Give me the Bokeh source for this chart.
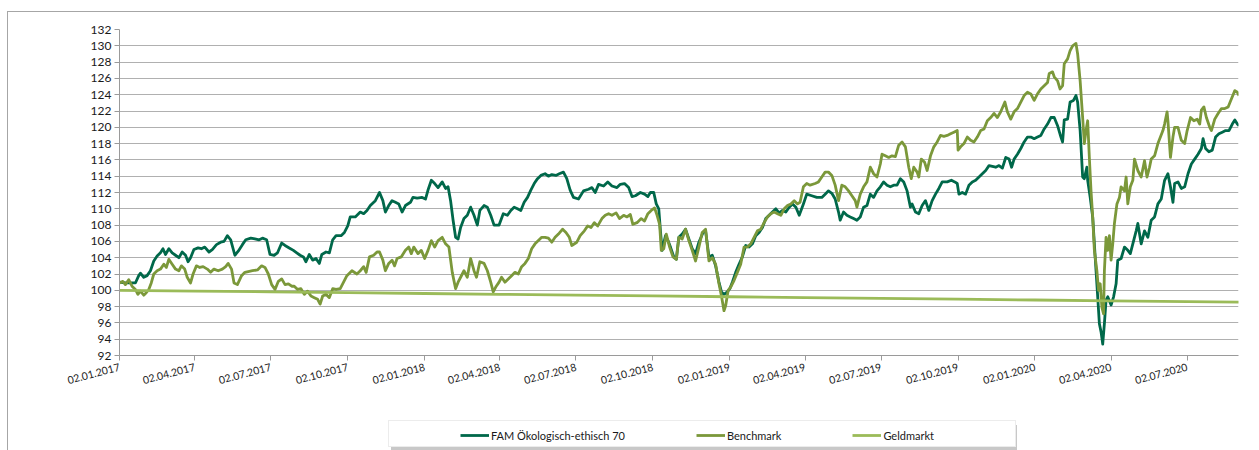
import pandas as pd
from bokeh.plotting import figure
from bokeh.layouts import column
from bokeh.models import (FixedTicker, DatetimeTickFormatter, Legend, LegendItem,
                          Range1d)
from bokeh.embed import file_html
from bokeh.resources import INLINE

# ---------------- data ----------------
START_DATE = "2017-01-02"
END_OFFSET_DAYS = 1338.4

x_tick_labels = ["02.01.2017", "02.04.2017", "02.07.2017", "02.10.2017",
                 "02.01.2018", "02.04.2018", "02.07.2018", "02.10.2018",
                 "02.01.2019", "02.04.2019", "02.07.2019", "02.10.2019",
                 "02.01.2020", "02.04.2020", "02.07.2020"]
y_ticks = [92, 94, 96, 98, 100, 102, 104, 106, 108, 110, 112, 114, 116,
           118, 120, 122, 124, 126, 128, 130, 132]

series_names = ["FAM Ökologisch-ethisch 70", "Benchmark", "Geldmarkt"]

# days since 02.01.2017
fam_days = [0, 7, 13, 19, 23, 25, 29, 33, 37, 41, 45, 49, 52, 55, 59, 63, 67, 71, 75, 79, 82, 85, 89, 94, 98, 102, 107, 111, 116, 121, 125, 129, 133, 138, 142, 147, 151, 157, 162, 167, 171, 176, 180, 185, 189, 194, 198, 203, 208, 212, 216, 220, 223, 227, 231, 235, 239, 242, 247, 251, 255, 259, 265, 269, 273, 276, 282, 288, 292, 296, 300, 306, 311, 315, 318, 322, 326, 330, 334, 338, 342, 348, 351, 356, 362, 366, 369, 373, 377, 381, 386, 390, 393, 396, 399, 402, 405, 408, 412, 416, 420, 424, 428, 431, 436, 440, 444, 448, 454, 459, 464, 468, 472, 476, 480, 484, 488, 492, 496, 500, 504, 509, 513, 517, 522, 526, 531, 535, 539, 543, 549, 555, 561, 565, 569, 573, 579, 584, 589, 595, 599, 604, 609, 613, 617, 623, 628, 632, 635, 639, 642, 645, 647, 649, 653, 656, 659, 663, 666, 669, 673, 677, 681, 685, 689, 693, 698, 701, 705, 709, 713, 717, 720, 723, 727, 730, 733, 737, 741, 745, 749, 753, 757, 761, 765, 769, 773, 777, 781, 785, 789, 793, 797, 801, 805, 809, 813, 818, 822, 828, 834, 840, 844, 848, 852, 856, 860, 862, 866, 870, 874, 878, 882, 886, 890, 894, 898, 902, 906, 910, 914, 918, 922, 926, 930, 934, 938, 942, 946, 948, 952, 956, 960, 964, 968, 972, 976, 980, 984, 990, 995, 999, 1002, 1004, 1008, 1012, 1016, 1020, 1024, 1028, 1032, 1036, 1040, 1044, 1048, 1052, 1056, 1060, 1064, 1067, 1070, 1074, 1078, 1082, 1086, 1090, 1094, 1098, 1102, 1106, 1110, 1114, 1118, 1122, 1126, 1128, 1130, 1134, 1137, 1141, 1144, 1146, 1149, 1152, 1154, 1157, 1158, 1161, 1164, 1166, 1168, 1170, 1172, 1174, 1176, 1178, 1180, 1182, 1186, 1189, 1192, 1194, 1198, 1202, 1206, 1209, 1212, 1216, 1218, 1222, 1226, 1230, 1234, 1238, 1242, 1246, 1250, 1254, 1257, 1260, 1262, 1266, 1270, 1274, 1278, 1282, 1286, 1290, 1294, 1296, 1299, 1303, 1307, 1311, 1315, 1319, 1323, 1327, 1331, 1334, 1337, 1339]
fam_values = [101.0, 100.9, 100.9, 100.9, 101.8, 102.1, 101.6, 101.8, 102.4, 103.6, 104.2, 104.6, 105.1, 104.4, 105.1, 104.6, 104.3, 104.0, 104.7, 104.3, 103.5, 104.0, 105.0, 105.2, 105.1, 105.3, 104.7, 105.0, 105.6, 105.9, 106.0, 106.7, 106.2, 104.3, 104.8, 105.6, 106.2, 106.4, 106.3, 106.2, 106.4, 106.2, 104.4, 104.3, 104.6, 105.8, 105.5, 105.2, 104.9, 104.6, 104.3, 104.1, 103.5, 104.4, 103.7, 103.9, 103.3, 104.4, 104.7, 104.6, 106.2, 106.7, 106.7, 107.1, 107.9, 109.0, 109.0, 109.6, 109.4, 109.8, 110.4, 111.0, 112.0, 111.0, 109.6, 110.4, 111.0, 110.8, 110.6, 109.6, 110.4, 110.8, 111.4, 111.3, 111.4, 111.2, 112.3, 113.5, 113.1, 112.6, 113.3, 112.5, 112.7, 111.0, 108.6, 106.5, 106.3, 107.7, 108.8, 109.2, 110.2, 109.2, 108.0, 109.8, 110.4, 110.2, 109.2, 108.0, 108.0, 109.4, 109.2, 109.8, 110.2, 110.0, 109.8, 110.8, 111.4, 112.3, 113.1, 113.7, 114.1, 114.3, 114.0, 114.2, 114.1, 114.3, 114.5, 113.7, 112.3, 111.4, 111.2, 112.2, 112.4, 112.6, 112.0, 113.0, 112.8, 113.3, 112.8, 112.6, 113.0, 113.1, 112.6, 111.5, 111.6, 112.0, 111.8, 111.5, 112.0, 112.0, 110.6, 110.0, 107.3, 104.9, 106.7, 106.1, 105.3, 104.1, 103.8, 106.5, 106.9, 107.5, 106.3, 105.1, 104.5, 105.9, 107.1, 107.3, 104.1, 104.3, 103.0, 101.0, 99.8, 99.5, 99.8, 100.2, 101.0, 102.2, 103.2, 104.1, 105.5, 105.3, 105.7, 106.7, 107.1, 107.7, 108.8, 109.2, 109.6, 110.0, 109.5, 109.8, 109.6, 110.2, 110.6, 110.2, 109.2, 110.6, 111.8, 111.6, 111.4, 111.4, 111.8, 112.2, 111.9, 111.2, 109.6, 108.6, 109.6, 109.2, 109.0, 108.8, 108.6, 109.0, 110.2, 110.4, 111.8, 111.4, 112.2, 112.7, 113.3, 112.9, 112.7, 112.9, 112.9, 113.7, 113.3, 112.2, 110.2, 110.6, 109.6, 109.4, 110.4, 111.0, 109.8, 111.0, 111.8, 112.5, 113.3, 113.3, 113.5, 113.3, 113.1, 111.8, 112.0, 111.8, 112.9, 113.3, 113.5, 113.9, 114.3, 114.7, 115.3, 115.2, 115.1, 115.3, 115.0, 116.3, 116.1, 115.1, 116.1, 116.7, 117.4, 118.2, 118.8, 118.8, 118.6, 118.8, 119.0, 119.8, 120.4, 121.2, 121.2, 120.2, 118.8, 118.2, 120.9, 121.0, 123.1, 123.3, 123.9, 123.1, 119.6, 113.9, 113.7, 115.1, 113.5, 111.4, 109.0, 105.7, 102.4, 99.2, 95.9, 94.9, 93.4, 95.9, 98.8, 99.2, 98.2, 99.2, 100.8, 103.7, 103.9, 105.3, 104.9, 104.5, 105.7, 107.3, 108.2, 105.7, 107.3, 106.5, 108.6, 109.0, 110.6, 111.2, 113.5, 114.3, 112.7, 110.8, 113.1, 113.3, 112.5, 112.7, 114.3, 115.5, 116.1, 116.7, 117.4, 118.6, 117.4, 117.0, 117.2, 118.8, 119.2, 119.4, 119.6, 119.6, 120.4, 120.9, 120.4, 120.2]

bench_days = [0, 4, 7, 11, 15, 19, 22, 25, 29, 32, 35, 38, 41, 45, 49, 53, 56, 59, 63, 67, 71, 74, 78, 81, 85, 88, 92, 96, 100, 105, 109, 113, 118, 123, 127, 130, 134, 137, 141, 146, 150, 154, 159, 165, 170, 174, 178, 182, 186, 190, 194, 198, 202, 206, 209, 213, 217, 221, 225, 229, 233, 237, 240, 243, 247, 251, 255, 259, 264, 268, 272, 278, 284, 288, 292, 295, 299, 304, 308, 311, 315, 318, 322, 326, 329, 332, 337, 342, 346, 349, 352, 357, 361, 365, 369, 373, 377, 381, 386, 390, 394, 398, 402, 405, 408, 412, 416, 420, 424, 427, 431, 436, 440, 444, 447, 450, 454, 457, 461, 465, 469, 473, 477, 481, 485, 489, 493, 497, 501, 505, 509, 513, 517, 521, 525, 530, 534, 538, 541, 547, 551, 556, 560, 564, 568, 572, 577, 581, 585, 589, 594, 598, 603, 607, 611, 614, 619, 624, 628, 632, 636, 640, 643, 646, 648, 651, 654, 658, 662, 666, 669, 673, 677, 681, 685, 689, 693, 697, 701, 705, 709, 713, 717, 720, 723, 725, 728, 731, 735, 739, 743, 747, 751, 755, 759, 763, 767, 771, 775, 779, 783, 787, 791, 795, 799, 803, 807, 811, 814, 818, 822, 826, 832, 836, 840, 844, 848, 852, 856, 860, 864, 868, 872, 876, 880, 882, 886, 890, 894, 898, 902, 906, 910, 912, 916, 920, 924, 928, 932, 936, 940, 944, 947, 950, 954, 956, 959, 963, 966, 970, 974, 978, 982, 986, 990, 994, 998, 1002, 1003, 1006, 1010, 1014, 1018, 1022, 1026, 1030, 1034, 1038, 1042, 1046, 1050, 1054, 1059, 1062, 1066, 1070, 1074, 1078, 1082, 1086, 1090, 1094, 1098, 1102, 1106, 1110, 1112, 1116, 1118, 1122, 1125, 1128, 1130, 1134, 1137, 1140, 1144, 1146, 1149, 1152, 1154, 1156, 1158, 1160, 1162, 1164, 1166, 1169, 1171, 1173, 1175, 1177, 1178, 1180, 1182, 1184, 1186, 1188, 1190, 1193, 1196, 1198, 1202, 1204, 1206, 1209, 1212, 1214, 1218, 1222, 1226, 1229, 1232, 1234, 1238, 1242, 1245, 1248, 1250, 1253, 1254, 1257, 1260, 1262, 1266, 1270, 1274, 1277, 1281, 1285, 1289, 1292, 1294, 1297, 1300, 1304, 1306, 1310, 1314, 1318, 1322, 1326, 1330, 1334, 1337, 1339]
bench_values = [100.9, 101.1, 100.7, 101.3, 100.5, 100.1, 99.5, 99.9, 99.4, 99.7, 100.1, 100.9, 102.0, 102.4, 102.6, 103.2, 102.8, 103.8, 103.2, 102.6, 102.4, 103.0, 102.6, 101.6, 100.9, 102.0, 103.0, 102.8, 102.9, 102.6, 102.2, 102.6, 102.4, 102.6, 102.9, 103.3, 102.6, 100.9, 100.7, 101.8, 102.2, 102.3, 102.4, 102.5, 103.0, 102.8, 102.0, 100.7, 100.1, 101.1, 101.4, 100.7, 100.8, 100.5, 100.5, 100.1, 100.2, 99.5, 99.9, 99.3, 99.1, 98.9, 98.3, 99.3, 99.5, 99.1, 100.2, 100.1, 100.2, 101.0, 101.8, 102.4, 102.0, 102.4, 102.9, 102.2, 104.1, 104.3, 104.7, 104.7, 103.7, 102.4, 103.3, 103.7, 103.0, 103.9, 104.1, 104.9, 105.3, 104.5, 105.3, 104.5, 104.9, 103.9, 104.9, 106.1, 105.3, 106.1, 106.5, 105.7, 105.3, 102.2, 100.2, 101.0, 101.6, 102.4, 101.6, 103.9, 102.4, 101.6, 103.5, 103.3, 102.4, 101.0, 99.8, 100.4, 101.0, 101.6, 101.0, 101.4, 101.8, 102.2, 102.0, 102.9, 103.3, 103.9, 105.1, 105.7, 106.1, 106.5, 106.5, 106.4, 105.9, 106.5, 106.9, 107.5, 107.1, 106.5, 105.5, 105.9, 106.7, 107.3, 107.9, 107.7, 108.3, 107.9, 108.8, 109.2, 109.4, 109.2, 109.5, 108.8, 109.2, 109.0, 109.3, 108.1, 108.3, 108.8, 108.5, 109.4, 109.8, 110.1, 109.2, 108.1, 104.9, 105.1, 106.9, 105.3, 104.1, 103.8, 106.5, 106.3, 107.5, 106.1, 104.9, 103.6, 105.3, 107.1, 107.5, 103.6, 104.0, 103.2, 100.8, 99.3, 97.5, 98.1, 100.0, 100.4, 101.2, 102.2, 103.2, 105.3, 105.3, 105.7, 106.5, 107.3, 107.5, 108.3, 109.0, 109.4, 109.6, 109.4, 109.2, 110.0, 110.4, 110.6, 111.0, 110.6, 110.8, 112.7, 113.1, 112.9, 113.1, 113.3, 113.9, 114.5, 114.5, 114.1, 112.9, 111.0, 112.9, 112.7, 112.2, 111.6, 111.0, 110.2, 111.8, 112.7, 113.3, 115.1, 114.3, 113.9, 115.5, 116.7, 116.5, 116.3, 116.5, 116.4, 117.8, 118.2, 117.6, 115.1, 113.7, 115.1, 114.5, 113.9, 116.1, 115.7, 114.7, 116.5, 117.6, 118.2, 119.0, 118.9, 119.0, 119.2, 119.4, 119.6, 117.2, 117.6, 118.0, 118.8, 118.4, 118.2, 118.8, 119.6, 119.8, 120.8, 121.2, 121.7, 121.2, 121.9, 123.1, 121.9, 121.0, 121.9, 122.3, 123.1, 123.9, 124.3, 124.1, 123.3, 124.1, 124.7, 125.1, 125.5, 126.6, 126.8, 126.2, 125.7, 124.7, 125.1, 127.8, 128.4, 129.4, 130.0, 130.3, 129.0, 125.7, 121.2, 118.0, 119.6, 120.8, 116.3, 112.2, 109.0, 104.9, 102.4, 100.0, 100.8, 97.9, 97.1, 102.4, 106.5, 104.9, 106.7, 103.7, 105.7, 108.2, 110.6, 111.4, 112.7, 112.2, 113.9, 110.6, 112.7, 113.5, 116.1, 114.7, 113.9, 115.9, 113.9, 115.1, 116.1, 116.5, 118.0, 118.8, 119.6, 120.4, 121.9, 120.8, 116.3, 118.8, 120.0, 120.0, 118.4, 118.0, 119.6, 121.2, 120.8, 121.0, 120.4, 122.1, 122.5, 121.2, 120.0, 119.6, 121.0, 121.7, 122.3, 122.3, 122.5, 123.5, 124.5, 124.3, 123.9]

money_days = [0, 91, 181, 273, 365, 455, 546, 638, 730, 820, 911, 1003, 1095, 1186, 1277, 1339]
money_values = [100.0, 99.91, 99.81, 99.71, 99.61, 99.51, 99.41, 99.31, 99.21, 99.11, 99.01, 98.91, 98.81, 98.71, 98.62, 98.55]

colors = ["#00684a", "#7b983a", "#9bbb59"]

# ---------------- helpers ----------------
start = pd.Timestamp(START_DATE)


def to_dates(days):
    return [start + pd.Timedelta(days=d) for d in days]


def ms(ts):
    return ts.value / 1e6


x_ticks = [ms(pd.to_datetime(t, format="%d.%m.%Y")) for t in x_tick_labels]

FONT = "Lato"
LW = 2.8

# ---------------- main chart ----------------
p = figure(width=1251, height=383, x_axis_type="datetime",
           output_backend="svg", toolbar_location=None,
           x_range=Range1d(ms(start), ms(start + pd.Timedelta(days=END_OFFSET_DAYS))),
           y_range=Range1d(92, 132),
           min_border_left=111, min_border_right=21,
           min_border_top=17, min_border_bottom=40)
p.outline_line_color = None
p.border_fill_color = "white"

p.xgrid.grid_line_color = None
p.ygrid.grid_line_color = "#b0b0b0"
p.ygrid.grid_line_width = 1.2

p.yaxis.ticker = FixedTicker(ticks=y_ticks)
p.yaxis.major_label_text_font = FONT
p.yaxis.major_label_text_font_size = "12px"
p.yaxis.major_label_text_color = "#1a1a1a"
p.yaxis.axis_line_color = "#9a9a9a"
p.yaxis.major_tick_line_color = "#9a9a9a"
p.yaxis.major_tick_out = 5
p.yaxis.major_tick_in = 0
p.yaxis.minor_tick_line_color = None
p.yaxis.major_label_standoff = 3

p.xaxis.ticker = FixedTicker(ticks=x_ticks)
fmt = "%d.%m.%Y"
p.xaxis.formatter = DatetimeTickFormatter(milliseconds=fmt, seconds=fmt, minsec=fmt,
                                          minutes=fmt, hourmin=fmt, hours=fmt,
                                          days=fmt, months=fmt, years=fmt)
p.xaxis.major_label_orientation = 0.26
p.xaxis.major_label_text_font = FONT
p.xaxis.major_label_text_font_size = "10.5px"
p.xaxis.major_label_text_color = "#1a1a1a"
p.xaxis.axis_line_color = "#9a9a9a"
p.xaxis.major_tick_line_color = "#9a9a9a"
p.xaxis.major_tick_out = 5
p.xaxis.major_tick_in = 0
p.xaxis.minor_tick_line_color = None
p.xaxis.major_label_standoff = 6

p.line(to_dates(fam_days), fam_values, line_color=colors[0], line_width=LW,
       line_join="round")
p.line(to_dates(bench_days), bench_values, line_color=colors[1], line_width=LW,
       line_join="round")
p.line(to_dates(money_days), money_values, line_color=colors[2], line_width=LW,
       line_join="round")

# ---------------- legend strip ----------------
lf = figure(width=1251, height=55, output_backend="svg", toolbar_location=None,
            x_range=Range1d(0, 1), y_range=Range1d(0, 1),
            x_axis_location=None, y_axis_location=None,
            min_border=0, min_border_left=0, min_border_right=0,
            min_border_top=0, min_border_bottom=0)
lf.outline_line_color = None
lf.grid.grid_line_color = None
lf.border_fill_color = "white"

# legend-only renderers (points lie outside the visible range)
leg_renderers = [lf.line(x=[5, 6], y=[5, 6], line_color=c, line_width=LW) for c in colors]
dummy = lf.line(x=[5, 6], y=[5, 6], line_alpha=0)


def box_legend(loc, fill, border):
    return Legend(items=[LegendItem(label=" ", renderers=[dummy])], location=loc,
                  orientation="horizontal", padding=0, spacing=0, margin=0,
                  glyph_width=1, glyph_height=25, label_height=25, label_width=625,
                  label_standoff=0, background_fill_color=fill, background_fill_alpha=1,
                  border_line_color=border, label_text_font_size="1px")


lf.add_layout(box_legend((272, 0), "#c8c8c8", None), "center")
lf.add_layout(box_legend((269, 3), "white", "#d9d9d9"), "center")

items = Legend(items=[LegendItem(label=n, renderers=[r])
                      for n, r in zip(series_names, leg_renderers)],
               location=(341, 8), orientation="horizontal", padding=0, spacing=71,
               margin=0, glyph_width=29, glyph_height=14, label_height=14,
               label_standoff=2, background_fill_alpha=0, border_line_color=None,
               label_text_font=FONT, label_text_font_size="11px",
               label_text_color="#1a1a1a")
lf.add_layout(items, "center")

layout = column(p, lf, spacing=0, margin=(11, 0, 0, 7),
                styles={"border-left": "1px solid #a6a6a6",
                        "border-top": "1px solid #a6a6a6"})

open("out.html", "w").write(file_html(layout, INLINE))
